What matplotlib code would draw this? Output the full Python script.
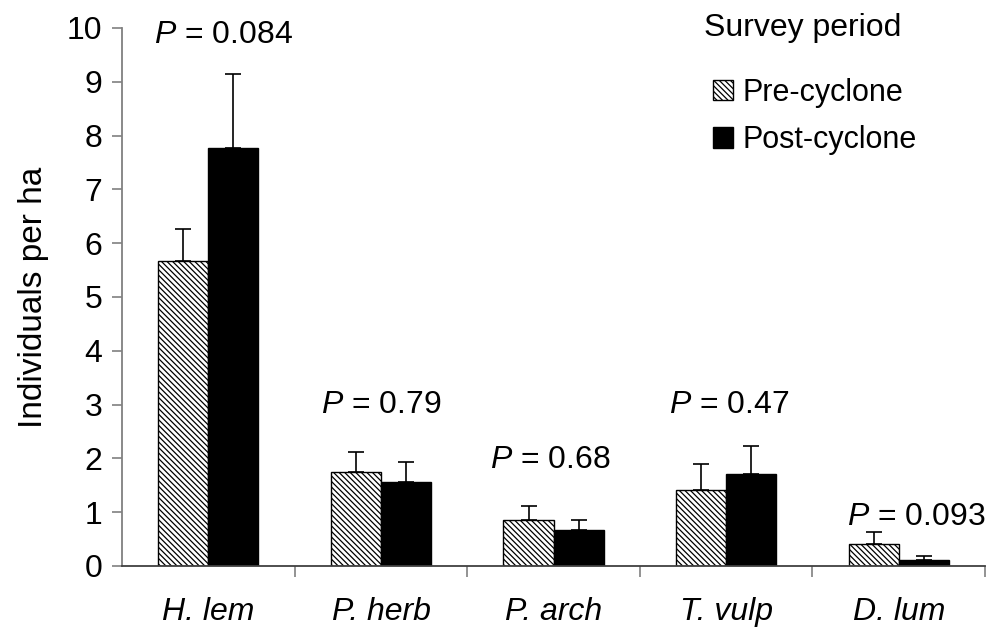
import numpy as np
import matplotlib
matplotlib.use('Agg')
import matplotlib.pyplot as plt

plt.rcParams['font.family'] = ['Liberation Sans', 'DejaVu Sans']
plt.rcParams['mathtext.fontset'] = 'custom'
plt.rcParams['mathtext.rm'] = 'Liberation Sans'
plt.rcParams['mathtext.it'] = 'Liberation Sans:italic'
plt.rcParams['hatch.linewidth'] = 0.9

# Data
species = ['H. lem', 'P. herb', 'P. arch', 'T. vulp', 'D. lum']
pre_mean = [5.67, 1.74, 0.85, 1.41, 0.41]
pre_err = [0.60, 0.37, 0.26, 0.49, 0.22]
post_mean = [7.77, 1.56, 0.67, 1.71, 0.11]
post_err = [1.38, 0.37, 0.18, 0.52, 0.07]
p_values = ['0.084', '0.79', '0.68', '0.47', '0.093']

# where the P labels sit (x offset from group centre, y in data units)
p_dx = [0.09, 0.0, -0.02, 0.02, 0.1]
p_y = [9.87, 2.99, 1.97, 2.99, 0.91]

fig = plt.figure(figsize=(9.89, 6.30), dpi=100)
ax = fig.add_axes([0.1234, 0.1016, 0.8726, 0.854])

x = np.arange(len(species))
w = 0.29
zeros = np.zeros(len(species))

ax.bar(x - w / 2, pre_mean, w, color='white', edgecolor='black',
       hatch='\\\\\\\\\\\\', linewidth=1.0, label='Pre-cyclone', zorder=2)
ax.bar(x + w / 2, post_mean, w, color='black', edgecolor='black',
       linewidth=1.0, label='Post-cyclone', zorder=2)
ax.errorbar(x - w / 2, pre_mean, yerr=[zeros, pre_err], fmt='none',
            ecolor='black', elinewidth=1.2, capsize=6, capthick=1.2, zorder=1)
ax.errorbar(x + w / 2, post_mean, yerr=[zeros, post_err], fmt='none',
            ecolor='black', elinewidth=1.2, capsize=6, capthick=1.2, zorder=1)

for i, p in enumerate(p_values):
    ax.text(x[i] + p_dx[i], p_y[i], r'$\it{P}$ = ' + p, ha='center', va='center',
            fontsize=23)

ax.set_xlim(-0.5, len(species) - 0.5)
ax.set_ylim(0, 10)
ax.set_yticks(np.arange(0, 11, 1))
ax.set_xticks(np.append(x[:-1] + 0.5, len(species) - 0.5))
ax.set_xticklabels([])
ax.set_xticks(x, minor=True)
ax.set_xticklabels(species, minor=True, fontstyle='italic', fontsize=23)
ax.tick_params(axis='x', which='major', direction='out', length=8, color='#808080', width=1.2)
ax.tick_params(axis='x', which='minor', length=0, pad=22)
ax.tick_params(axis='y', direction='out', length=7, color='#808080', width=1.2,
               labelsize=23, pad=7)

for s in ['top', 'right']:
    ax.spines[s].set_visible(False)
for s in ['left', 'bottom']:
    ax.spines[s].set_color('#808080')
    ax.spines[s].set_linewidth(1.3)
ax.spines['bottom'].set_color('#404040')

ax.set_ylabel('Individuals per ha', fontsize=24, labelpad=13)

# legend title drawn on its own, handles sit slightly indented
fig.text(704 / 989, 1 - 28 / 630, 'Survey period', ha='left', va='center', fontsize=23)
leg = ax.legend(loc='upper left', bbox_to_anchor=(713 / 989, 1 - 78 / 630),
                bbox_transform=fig.transFigure, frameon=False, fontsize=22,
                borderpad=0, borderaxespad=0,
                handlelength=0.65, handleheight=0.65, handletextpad=0.33,
                labelspacing=0.57)

fig.savefig('out.png', dpi=100)
